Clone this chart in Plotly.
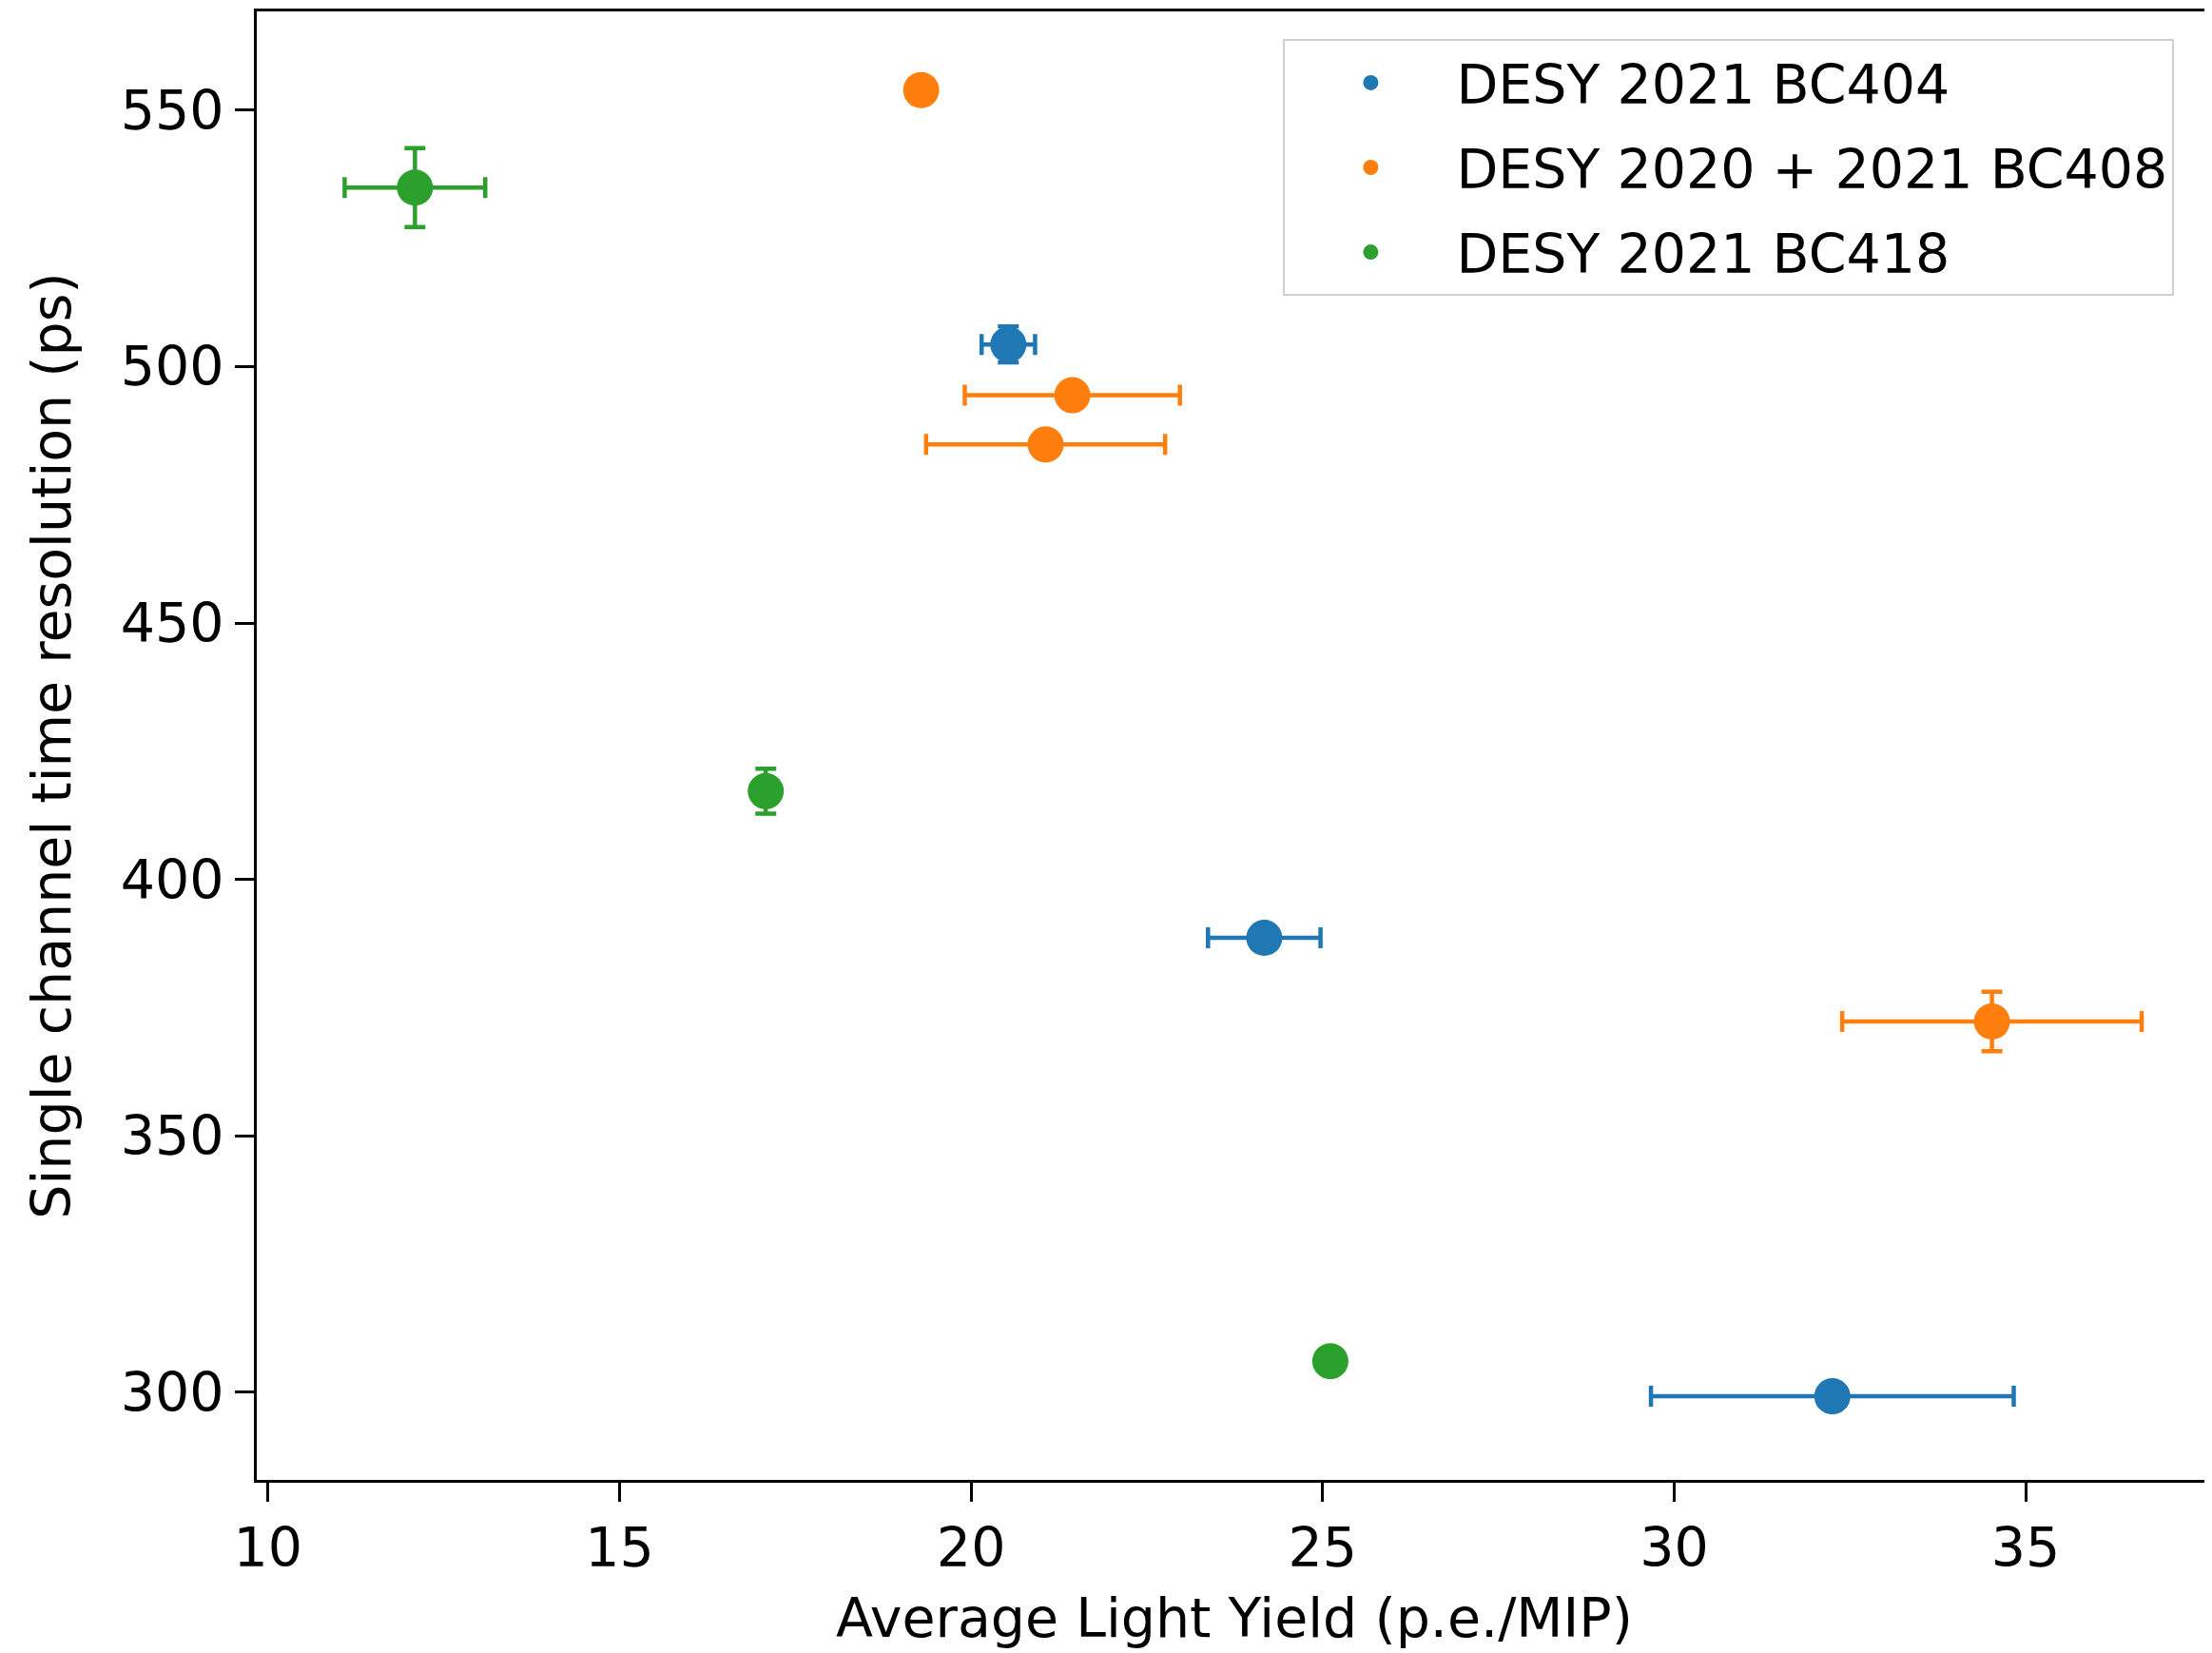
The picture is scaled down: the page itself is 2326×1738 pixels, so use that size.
import plotly.graph_objects as go

# Data
series_names = ["DESY 2021 BC404", "DESY 2020 + 2021 BC408", "DESY 2021 BC418"]
colors = ["#1f77b4", "#ff7f0e", "#2ca02c"]

bc404_x = [20.53, 24.17, 32.25]
bc404_y = [504.3, 388.6, 299.2]
bc404_xerr = [0.38, 0.8, 2.58]
bc404_yerr = [3.5, 0.0, 0.0]

bc408_x = [19.29, 21.44, 21.06, 34.52]
bc408_y = [553.9, 494.4, 484.8, 372.3]
bc408_xerr = [0.0, 1.53, 1.7, 2.13]
bc408_yerr = [0.0, 0.0, 0.0, 5.8]

bc418_x = [12.09, 17.08, 25.11]
bc418_y = [534.9, 417.2, 306.05]
bc418_xerr = [1.0, 0.1, 0.0]
bc418_yerr = [7.7, 4.4, 0.0]

x_ticks = [10, 15, 20, 25, 30, 35]
y_ticks = [300, 350, 400, 450, 500, 550]

data = [
    (bc404_x, bc404_y, bc404_xerr, bc404_yerr),
    (bc408_x, bc408_y, bc408_xerr, bc408_yerr),
    (bc418_x, bc418_y, bc418_xerr, bc418_yerr),
]

FONT = "DejaVu Sans"
FS = 57
fig = go.Figure()
for i, (name, c, (xs, ys, xe, ye)) in enumerate(zip(series_names, colors, data)):
    fig.add_trace(go.Scatter(
        x=xs, y=ys, mode="markers", name=name, legendgroup=f"g{i}",
        marker=dict(color=c, size=38, line=dict(width=0)),
        error_x=dict(type="data", array=xe, visible=True, color=c, thickness=4.5, width=11),
        error_y=dict(type="data", array=ye, visible=True, color=c, thickness=4.5, width=11),
    ))

fig.update_layout(
    width=2318, height=1730,
    margin=dict(l=262, r=0, t=4, b=182),
    paper_bgcolor="white", plot_bgcolor="white",
    font=dict(family=FONT, size=FS, color="black"),
    showlegend=True,
    legend=dict(
        x=0.525, y=0.981, xanchor="left", yanchor="top",
        bgcolor="rgba(255,255,255,0.8)", bordercolor="#d0d0d0", borderwidth=2,
        font=dict(family=FONT, size=FS, color="black"),
        tracegroupgap=12, itemwidth=170,
    ),
    xaxis=dict(
        range=[9.84, 37.65], tickvals=x_ticks, ticktext=[str(v) for v in x_ticks],
        showgrid=False, zeroline=False, automargin=False,
        showline=True, linecolor="black", linewidth=3, mirror=True,
        ticks="outside", ticklen=20, tickwidth=2.7, tickcolor="black",
        tickfont=dict(family=FONT, size=FS, color="black"),
        title=dict(text="Average Light Yield (p.e./MIP)", font=dict(family=FONT, size=FS, color="black"), standoff=22),
    ),
    yaxis=dict(
        range=[282.9, 569.25], tickvals=y_ticks, ticktext=[str(v) for v in y_ticks],
        showgrid=False, zeroline=False, automargin=False,
        showline=True, linecolor="black", linewidth=3, mirror=False,
        ticks="outside", ticklen=20, tickwidth=2.7, tickcolor="black",
        tickfont=dict(family=FONT, size=FS, color="black"),
        title=dict(text="Single channel time resolution (ps)", font=dict(family=FONT, size=FS, color="black"), standoff=34),
    ),
)

fig.write_html("out.html")
